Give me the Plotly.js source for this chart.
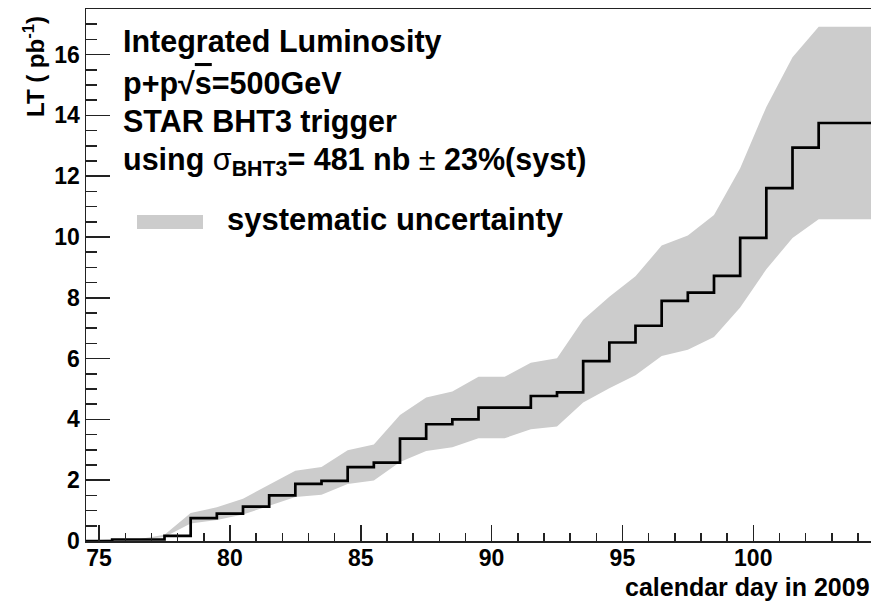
<!DOCTYPE html>
<html>
<head>
<meta charset="utf-8">
<script src="https://cdn.plot.ly/plotly-3.0.1.min.js"></script>
<style>html,body{margin:0;padding:0;background:#fff;}#chart{width:871px;height:603px;}</style>
</head>
<body>
<div id="chart"></div>
<script>
// Calendar day (bin centres, 1-day bins) and integrated luminosity LT (pb^-1)
const days = [75, 76, 77, 78, 79, 80, 81, 82, 83, 84, 85, 86, 87, 88, 89,
              90, 91, 92, 93, 94, 95, 96, 97, 98, 99, 100, 101, 102, 103, 104];
const lumi = [0.00, 0.05, 0.05, 0.17, 0.75, 0.90, 1.13, 1.50, 1.88, 1.98, 2.43, 2.58, 3.37, 3.84, 4.00,
              4.39, 4.39, 4.77, 4.89, 5.92, 6.53, 7.08, 7.90, 8.17, 8.72, 9.97, 11.61, 12.94, 13.75, 13.75];
const systFrac = 0.23;       // sigma_BHT3 systematic uncertainty (23%)
const binWidth = 1;

// Step line: left edges of each bin, then closing right edge
const lastDay = days[days.length - 1], lastLumi = lumi[lumi.length - 1];
const stepX = days.map(d => d - binWidth / 2).concat([lastDay + binWidth / 2]);
const stepY = lumi.concat([lastLumi]);

// Band: points at bin left edges, flat to the end
const bandLo = stepY.map(v => v * (1 - systFrac));
const bandHi = stepY.map(v => v * (1 + systFrac));

const FONT = 'Liberation Sans, Arial, Helvetica, sans-serif';

const traces = [
  {x: stepX, y: bandLo, mode: 'lines', line: {width: 0, color: 'rgba(0,0,0,0)'}, hoverinfo: 'skip', showlegend: false},
  {x: stepX, y: bandHi, mode: 'lines', fill: 'tonexty', fillcolor: '#cccccc', line: {width: 0, color: 'rgba(0,0,0,0)'}, showlegend: false},
  {x: stepX, y: stepY, mode: 'lines', line: {shape: 'hv', color: '#000000', width: 2.7}, showlegend: false}
];

const L = 86, R = 0, T = 9, B = 62, W = 871, H = 603;
const pw = W - L - R, ph = H - T - B;
const px = x => (x - L) / pw;
const py = y => (H - B - y) / ph;

const textLines = [
  {text: '<b>Integrated Luminosity</b>', yc: 42},
  {text: '<b>p+p\u221A<span style="text-decoration:overline">s</span>=500GeV</b>', yc: 83},
  {text: '<b>STAR BHT3 trigger</b>', yc: 121},
  {text: '<b>using </b>\u03C3<b><sub>BHT3</sub>= 481 nb </b>\u00B1<b> 23%(syst)</b>', yc: 161},
];

const annotations = textLines.map(t => ({
  xref: 'paper', yref: 'paper', x: px(121), y: py(t.yc), xanchor: 'left', yanchor: 'middle',
  text: t.text, showarrow: false, font: {family: FONT, size: 30.5, color: '#000'}
}));
annotations.push({
  xref: 'paper', yref: 'paper', x: px(225), y: py(220), xanchor: 'left', yanchor: 'middle',
  text: '<b>systematic uncertainty</b>', showarrow: false, font: {family: FONT, size: 31, color: '#000'}
});
annotations.push({
  xref: 'paper', yref: 'paper', x: px(34), y: py(67), xanchor: 'center', yanchor: 'middle', textangle: -90,
  text: '<b>LT ( pb<sup>-1</sup>)</b>', showarrow: false, font: {family: FONT, size: 24, color: '#000'}
});
annotations.push({
  xref: 'paper', yref: 'paper', x: px(872), y: py(587), xanchor: 'right', yanchor: 'middle',
  text: '<b>calendar day in 2009</b>', showarrow: false, font: {family: FONT, size: 25, color: '#000'}
});

const layout = {
  width: W, height: H,
  margin: {l: L, r: R, t: T, b: B, pad: 0},
  paper_bgcolor: '#ffffff', plot_bgcolor: '#ffffff',
  showlegend: false,
  xaxis: {
    range: [74.5, 104.5], dtick: 5, tick0: 75, ticks: 'inside', ticklen: 16, tickwidth: 1.5, tickcolor: '#222',
    minor: {dtick: 1, tick0: 75, ticks: 'inside', ticklen: 8, tickwidth: 1.5, tickcolor: '#222', showgrid: false},
    showgrid: false, zeroline: false, showline: true, linecolor: '#222', linewidth: 1.5, mirror: true,
    ticklabelstandoff: -4,
    tickfont: {family: FONT, size: 23, color: '#000', weight: 'bold'}
  },
  yaxis: {
    range: [0, 17.5], dtick: 2, tick0: 0, ticks: 'inside', ticklen: 24, tickwidth: 1.5, tickcolor: '#222',
    minor: {dtick: 0.5, tick0: 0, ticks: 'inside', ticklen: 11, tickwidth: 1.5, tickcolor: '#222', showgrid: false},
    showgrid: false, zeroline: false, showline: true, linecolor: '#222', linewidth: 1.5, mirror: true,
    tickfont: {family: FONT, size: 23, color: '#000', weight: 'bold'}
  },
  shapes: [{
    type: 'rect', xref: 'paper', yref: 'paper', x0: px(137), x1: px(203), y0: py(229), y1: py(215),
    fillcolor: '#cccccc', line: {width: 0}
  }],
  annotations: annotations
};

Plotly.newPlot('chart', traces, layout, {staticPlot: true, displayModeBar: false});
</script>
</body>
</html>
